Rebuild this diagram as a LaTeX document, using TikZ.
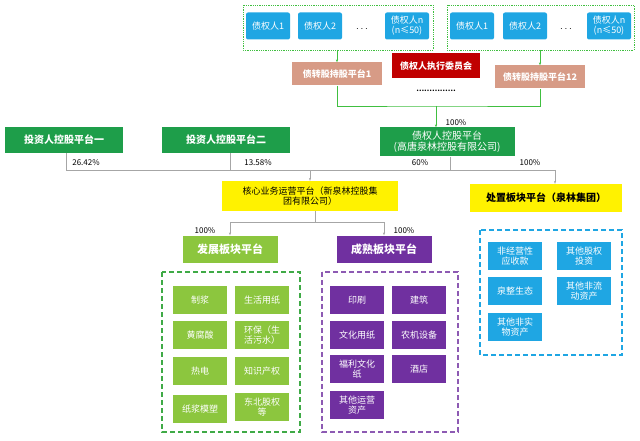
\documentclass[tikz,border=0pt]{standalone}
\usepackage{fontspec}
\setmainfont{Noto Sans CJK SC}
\usetikzlibrary{arrows.meta}
\definecolor{credblue}{HTML}{1FA6E3}
\definecolor{holdgreen}{HTML}{1E9E4A}
\definecolor{devgreen}{HTML}{8CC63E}
\definecolor{matpurple}{HTML}{7030A0}
\definecolor{salmon}{HTML}{D79B86}
\definecolor{cmtred}{HTML}{C00000}
\begin{document}
\begin{tikzpicture}[x=1pt,y=-1pt,
    cred/.style={fill=credblue,text=white,rounded corners=2pt,minimum width=44,minimum height=27,font=\fontsize{9}{10}\selectfont,align=center,inner sep=1pt},
    hold/.style={fill=holdgreen,text=white,font=\fontsize{10}{11}\selectfont\bfseries,align=center,inner sep=2pt},
    plat/.style={fill=salmon,text=white,minimum width=90,minimum height=23,font=\fontsize{9}{10}\selectfont\bfseries},
    core/.style={fill=yellow,font=\fontsize{9}{10}\selectfont,align=center,inner sep=2pt},
    item/.style={minimum width=54,minimum height=28,text=white,align=center,font=\fontsize{9}{10}\selectfont,inner sep=1pt},
    box/.style={dash pattern=on 5pt off 3pt,line width=1.3pt},
    link/.style={draw=gray!70,thin},
    glink/.style={draw=green!50!gray,thin},
    pct/.style={font=\fontsize{8}{9}\selectfont,inner sep=1pt}]
    \useasboundingbox (0,0) rectangle (640,441);
    %% Creditors
    \draw[green!50!gray,densely dotted,thick] (243,5) rectangle (433,50);
    \draw[green!50!gray,densely dotted,thick] (447,5) rectangle (634,50);
    \node[cred] (c11) at (268,26) {债权人1};
    \node[cred] (c12) at (320,26) {债权人2};
    \node (c1d) at (362,29) {$\cdots$};
    \node[cred] (c1n) at (407,26) {债权人n\\(n≤50)};
    \node[cred] (c21) at (472,26) {债权人1};
    \node[cred] (c22) at (525,26) {债权人2};
    \node (c2d) at (566,29) {$\cdots$};
    \node[cred] (c2n) at (609,26) {债权人n\\(n≤50)};
    \coordinate (b1) at (337,50);
    \coordinate (b2) at (540,50);
    %% Platforms
    \node[plat] (p1) at (337,74) {债转股持股平台1};
    \node[plat] (p12) at (540,77) {债转股持股平台12};
    \node[fill=cmtred,text=white,minimum width=88,minimum height=25,font=\fontsize{9}{10}\selectfont\bfseries] (cmt) at (436,66) {债权人执行委员会};
    \node[font=\fontsize{7}{7}\selectfont] (dots) at (436,91) {\textbf{\dots\dots\dots\dots\dots}};
    \draw[glink,-{Stealth[length=3pt]}] (b1) -- (p1.north);
    \draw[glink,-{Stealth[length=3pt]}] (b2) -- (p12.north);
    \coordinate (j1) at (436,106);
    \draw[glink] (p1.south) |- (j1) -| (p12.south);
    %% Holding platforms
    \node[hold,minimum width=135,minimum height=29] (hc) at (447,142) {\mdseries 债权人控股平台\\\mdseries (高唐泉林控股有限公司)};
    \node[hold,minimum width=118,minimum height=26] (inv1) at (64,140) {投资人控股平台一};
    \node[hold,minimum width=128,minimum height=26] (inv2) at (226,140) {投资人控股平台二};
    \draw[glink,-{Stealth[length=3pt]}] (j1) -- (j1 |- hc.north);
    \node[pct] at (456,123) {100\%};
    %% Core
    \node[core,minimum width=176,minimum height=30] (core) at (310,196) {核心业务运营平台（新泉林控股集\\团有限公司）};
    \node[core,minimum width=152,minimum height=28,font=\fontsize{10}{11}\selectfont\bfseries] (disp) at (546,198) {处置板块平台（泉林集团）};
    \coordinate (l1) at (66,170);
    \coordinate (l2) at (230,170);
    \coordinate (l3) at (450,170);
    \coordinate (l4) at (555,170);
    \draw[link] (inv1.south -| l1) -- (l1) -- (l4);
    \draw[link] (inv2.south -| l2) -- (l2);
    \draw[link] (hc.south -| l3) -- (l3);
    \draw[link,-{Stealth[length=3pt]}] (l4) -- (disp.north -| l4);
    \draw[link,-{Stealth[length=3pt]}] (core.north |- l1) -- (core.north);
    \node[pct] at (86,163) {26.42\%};
    \node[pct] at (258,163) {13.58\%};
    \node[pct] at (420,163) {60\%};
    \node[pct] at (530,163) {100\%};
    %% Segments
    \node[fill=devgreen,text=white,minimum width=95,minimum height=27,font=\fontsize{11}{12}\selectfont\bfseries] (dev) at (230,249) {发展板块平台};
    \node[fill=matpurple,text=white,minimum width=95,minimum height=27,font=\fontsize{11}{12}\selectfont\bfseries] (mat) at (384,249) {成熟板块平台};
    \coordinate (j2) at (315,222);
    \draw[link] (core.south -| j2) -- (j2);
    \draw[link,-{Stealth[length=3pt]}] (j2) -| (dev.north);
    \draw[link,-{Stealth[length=3pt]}] (j2) -| (mat.north);
    \node[pct] at (205,231) {100\%};
    \node[pct] at (404,231) {100\%};
    %% Development items
    \draw[box,holdgreen!70!devgreen] (162,272) rectangle (300,432);
    \node[item,fill=devgreen] (d1) at (200,300) {制浆};
    \node[item,fill=devgreen] (d2) at (262,300) {生活用纸};
    \node[item,fill=devgreen] (d3) at (200,335) {黄腐酸};
    \node[item,fill=devgreen] (d4) at (262,335) {环保（生\\活污水）};
    \node[item,fill=devgreen] (d5) at (200,371) {热电};
    \node[item,fill=devgreen] (d6) at (262,371) {知识产权};
    \node[item,fill=devgreen] (d7) at (200,409) {纸浆模塑};
    \node[item,fill=devgreen] (d8) at (262,407) {东北股权\\等};
    %% Mature items
    \draw[box,matpurple!80] (322,272) rectangle (458,432);
    \node[item,fill=matpurple] (m1) at (357,300) {印刷};
    \node[item,fill=matpurple] (m2) at (419,300) {建筑};
    \node[item,fill=matpurple] (m3) at (357,335) {文化用纸};
    \node[item,fill=matpurple] (m4) at (419,335) {农机设备};
    \node[item,fill=matpurple] (m5) at (357,369) {福利文化\\纸};
    \node[item,fill=matpurple] (m6) at (419,369) {酒店};
    \node[item,fill=matpurple] (m7) at (357,405) {其他运营\\资产};
    %% Disposal items
    \draw[box,credblue] (480,230) rectangle (622,355);
    \node[item,fill=credblue] (s1) at (515,256) {非经营性\\应收款};
    \node[item,fill=credblue] (s2) at (584,256) {其他股权\\投资};
    \node[item,fill=credblue] (s3) at (515,291) {泉整生态};
    \node[item,fill=credblue] (s4) at (584,291) {其他非流\\动资产};
    \node[item,fill=credblue] (s5) at (515,327) {其他非实\\物资产};
\end{tikzpicture}
\end{document}
